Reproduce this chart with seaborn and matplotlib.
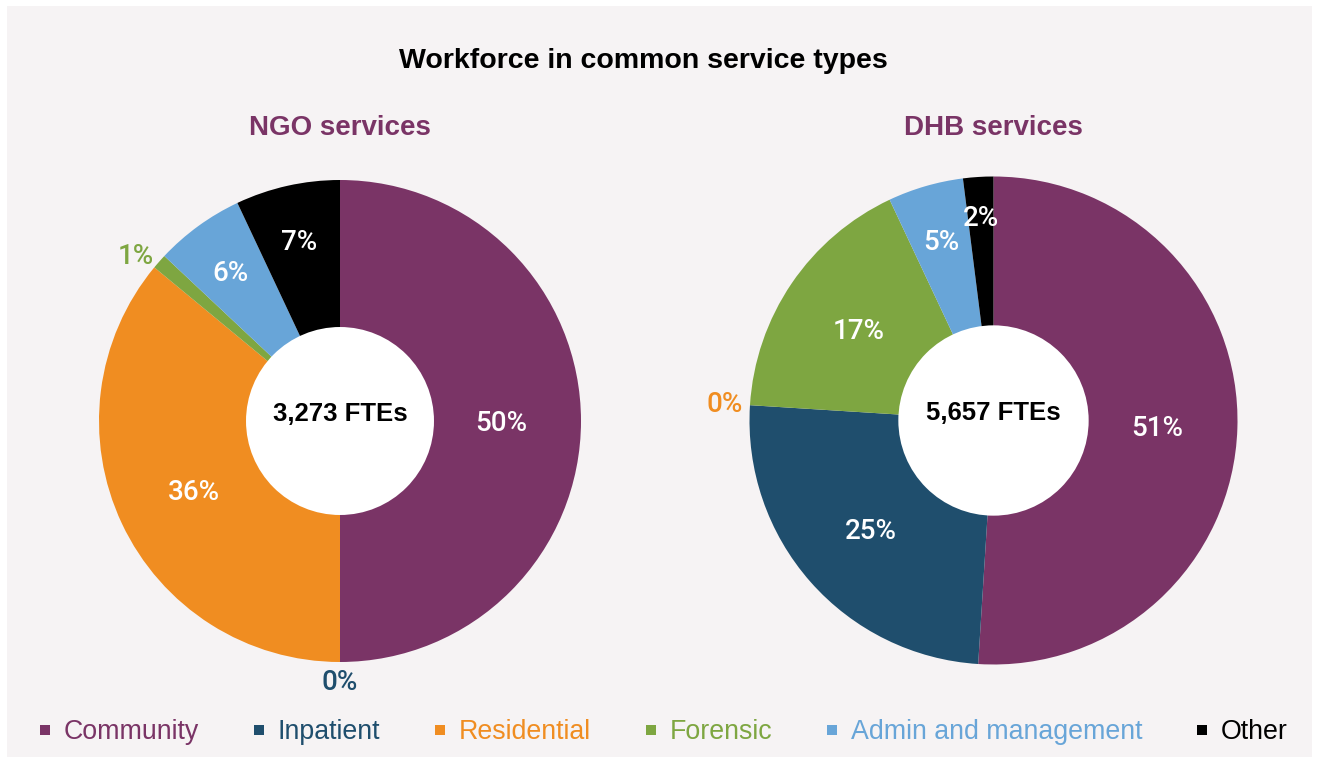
import numpy as np
import matplotlib
matplotlib.use("Agg")
import matplotlib.pyplot as plt
from matplotlib.patches import Circle, Rectangle
from matplotlib.lines import Line2D
import seaborn as sns

# Service types and their share of FTEs (%)
categories = ["Community", "Inpatient", "Residential", "Forensic",
              "Admin and management", "Other"]
ngo_share = [50, 0, 36, 1, 6, 7]
dhb_share = [51, 25, 0, 17, 5, 2]
ngo_total = 3273
dhb_total = 5657
panel_titles = ["NGO services", "DHB services"]
chart_title = "Workforce in common service types"

palette = ["#7A3466", "#1F4E6D", "#F08D21", "#7EA641", "#68A5D8", "#000000"]

sns.set_theme(style="white")
plt.rcParams["font.family"] = ["Liberation Sans", "DejaVu Sans"]

W, H = 1317, 762
fig = plt.figure(figsize=(W / 100, H / 100), dpi=100, facecolor="white")
fig.patches.append(Rectangle((7 / W, 5 / H), (W - 12) / W, (H - 11) / H,
                             transform=fig.transFigure, facecolor="#F6F3F4",
                             edgecolor="none", zorder=-10))

BOX = 620
PCT_FONT = dict(family=["Roboto", "Liberation Sans", "DejaVu Sans"],
                weight="medium", size=20)


def inside_radius(v):
    if v >= 10:
        return 0.67
    if v >= 5:
        return 0.77
    return 0.84


def donut(cx, cy, r_px, shares, total, title):
    half = BOX / 2
    ax = fig.add_axes([(cx - half) / W, (H - cy - half) / H, BOX / W, BOX / H])
    ax.set_zorder(1)
    lim = BOX / (2 * r_px)
    ax.pie(shares, colors=palette, startangle=90, counterclock=False,
           radius=1.0, wedgeprops=dict(linewidth=0))
    ax.set_xlim(-lim, lim)
    ax.set_ylim(-lim, lim)
    ax.set_aspect("equal")
    ax.axis("off")
    ax.add_patch(Circle((0, 0), 0.39, facecolor="white", edgecolor="none",
                        zorder=3))
    ax.text(0, 0.03, f"{total:,} FTEs", ha="center", va="center",
            fontsize=18.5, fontweight="bold", color="black", zorder=4)
    cum = 0.0
    tot = float(sum(shares))
    for v, c in zip(shares, palette):
        mid = np.deg2rad(90 - 360 * (cum + v / 2) / tot)
        dx, dy = np.cos(mid), np.sin(mid)
        if v >= 2:
            r = inside_radius(v)
            ax.text(r * dx, r * dy - 0.01, f"{v}%", ha="center", va="center",
                    color="white", zorder=5, **PCT_FONT)
        else:
            # small slices are labelled just outside the rim
            ha = "right" if dx < -0.3 else ("left" if dx > 0.3 else "center")
            va = "bottom" if dy > 0.9 else ("top" if dy < -0.9 else "center")
            ax.text(1.03 * dx, 1.03 * dy, f"{v}%", ha=ha, va=va, color=c,
                    zorder=5, **PCT_FONT)
        cum += v
    fig.text(cx / W, 1 - 128 / H, title, ha="center", va="center",
             fontsize=20, fontweight="bold", color=palette[0])


donut(340, 421, 241, ngo_share, ngo_total, panel_titles[0])
donut(993.5, 420.5, 244, dhb_share, dhb_total, panel_titles[1])

fig.text(643 / W, 1 - 61 / H, chart_title, ha="center", va="center",
         fontsize=20.5, fontweight="bold", color="black")

handles = [Line2D([], [], marker="s", linestyle="none", markersize=7,
                  markerfacecolor=c, markeredgewidth=0) for c in palette]
leg = fig.legend(handles, categories, loc="center", ncol=6,
                 bbox_to_anchor=(0.502, 1 - 732 / H), frameon=False,
                 handletextpad=0.3, columnspacing=1.83, handlelength=0.8,
                 labelcolor=palette, prop=dict(size=19.3))

fig.savefig("out.png", dpi=100, facecolor="white")
